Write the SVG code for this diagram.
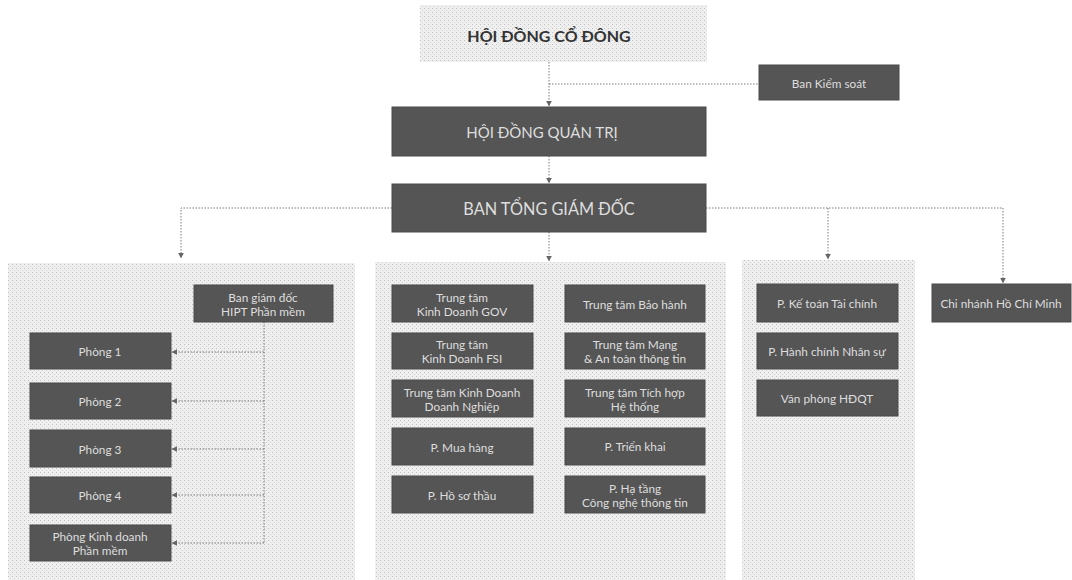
<svg xmlns="http://www.w3.org/2000/svg" width="1072" height="580" viewBox="0 0 1072 580">
<defs>
<pattern id="dots" width="4" height="4" patternUnits="userSpaceOnUse">
<rect width="4" height="4" fill="#efefef"/>
<rect x="0" y="0" width="1" height="1" fill="#c0c0c0"/>
<rect x="2" y="2" width="1" height="1" fill="#d4d4d4"/>
</pattern>
<marker id="arr" viewBox="0 0 10 10" refX="9" refY="5" markerWidth="6" markerHeight="6" orient="auto" markerUnits="userSpaceOnUse">
<path d="M0,0 L10,5 L0,10 Z" fill="#666"/>
</marker>
</defs>
<style>
.panel{fill:url(#dots);}
.box{fill:#555555;stroke:#4a4a4a;stroke-width:1;}
.t{font-family:Lato,"Open Sans","Noto Sans",sans-serif;fill:#dedede;font-size:11.8px;text-anchor:middle;dominant-baseline:central;}
.big{font-family:Lato,"Open Sans","Noto Sans",sans-serif;fill:#dedede;text-anchor:middle;dominant-baseline:central;}
.c{fill:none;stroke:#7a7a7a;stroke-width:1;stroke-dasharray:1.5,1.5;}
</style>
<rect width="1072" height="580" fill="#ffffff"/>

<g id="panels">
<rect class="panel" x="8" y="263" width="347" height="317"/>
<rect class="panel" x="375" y="262" width="351" height="318"/>
<rect class="panel" x="742" y="260" width="173" height="320"/>
</g>

<g id="connectors">
<path class="c" d="M549,62 V106" marker-end="url(#arr)"/>
<path class="c" d="M549,84 H759"/>
<path class="c" d="M549,156 V183" marker-end="url(#arr)"/>
<path class="c" d="M549,232 V261" marker-end="url(#arr)"/>
<path class="c" d="M392,208 H181 V258" marker-end="url(#arr)"/>
<path class="c" d="M706,208 H1003 V283" marker-end="url(#arr)"/>
<path class="c" d="M828,208 V259" marker-end="url(#arr)"/>
<path class="c" d="M264,322 V543"/>
<path class="c" d="M264,352 H172" marker-end="url(#arr)"/>
<path class="c" d="M264,401 H172" marker-end="url(#arr)"/>
<path class="c" d="M264,449 H172" marker-end="url(#arr)"/>
<path class="c" d="M264,495 H172" marker-end="url(#arr)"/>
<path class="c" d="M264,543 H172" marker-end="url(#arr)"/>
</g>

<g id="hdcd">
<rect x="420" y="5" width="287" height="57" class="panel"/>
<text x="549" y="35" style="font-family:Lato,'Open Sans','Noto Sans',sans-serif;font-weight:bold;font-size:16px;fill:#333;text-anchor:middle;dominant-baseline:central">HỘI ĐỒNG CỔ ĐÔNG</text>
</g>
<g id="bks"><rect class="box" x="759" y="65" width="140" height="35"/><text class="t" x="829" y="83">Ban Kiểm soát</text></g>
<g id="hdqt"><rect class="box" x="392" y="107" width="314" height="49"/><text class="big" x="542" y="132" style="font-size:15px">HỘI ĐỒNG QUẢN TRỊ</text></g>
<g id="btgd"><rect class="box" x="392" y="184" width="314" height="48"/><text class="big" x="549" y="208" style="font-size:16.3px">BAN TỔNG GIÁM ĐỐC</text></g>

<g id="bgd-hipt"><rect class="box" x="194" y="285" width="139" height="37"/><text class="t" x="263" y="297">Ban giám đốc</text><text class="t" x="263" y="311">HIPT Phần mềm</text></g>
<g id="phong1"><rect class="box" x="30" y="333" width="141" height="36"/><text class="t" x="100" y="351">Phòng 1</text></g>
<g id="phong2"><rect class="box" x="30" y="383" width="141" height="36"/><text class="t" x="100" y="401">Phòng 2</text></g>
<g id="phong3"><rect class="box" x="30" y="430" width="141" height="37"/><text class="t" x="100" y="449">Phòng 3</text></g>
<g id="phong4"><rect class="box" x="30" y="477" width="141" height="36"/><text class="t" x="100" y="495">Phòng 4</text></g>
<g id="phongkd"><rect class="box" x="30" y="525" width="141" height="36"/><text class="t" x="100" y="536">Phòng Kinh doanh</text><text class="t" x="100" y="550">Phần mềm</text></g>

<g id="tt-gov"><rect class="box" x="392" y="285" width="141" height="37"/><text class="t" x="462" y="297">Trung tâm</text><text class="t" x="462" y="311">Kinh Doanh GOV</text></g>
<g id="tt-fsi"><rect class="box" x="392" y="333" width="141" height="36"/><text class="t" x="462" y="344">Trung tâm</text><text class="t" x="462" y="358">Kinh Doanh FSI</text></g>
<g id="tt-dn"><rect class="box" x="392" y="380" width="141" height="37"/><text class="t" x="462" y="392">Trung tâm Kinh Doanh</text><text class="t" x="462" y="406">Doanh Nghiệp</text></g>
<g id="p-mua"><rect class="box" x="392" y="428" width="141" height="37"/><text class="t" x="462" y="447">P. Mua hàng</text></g>
<g id="p-hoso"><rect class="box" x="392" y="476" width="141" height="37"/><text class="t" x="462" y="495">P. Hồ sơ thầu</text></g>

<g id="tt-bh"><rect class="box" x="565" y="285" width="140" height="37"/><text class="t" x="635" y="304">Trung tâm Bảo hành</text></g>
<g id="tt-mang"><rect class="box" x="565" y="333" width="140" height="36"/><text class="t" x="635" y="344">Trung tâm Mạng</text><text class="t" x="635" y="358">&amp; An toàn thông tin</text></g>
<g id="tt-tichhop"><rect class="box" x="565" y="380" width="140" height="37"/><text class="t" x="635" y="392">Trung tâm Tích hợp</text><text class="t" x="635" y="406">Hệ thống</text></g>
<g id="p-trienkhai"><rect class="box" x="565" y="428" width="140" height="37"/><text class="t" x="635" y="446">P. Triển khai</text></g>
<g id="p-hatang"><rect class="box" x="565" y="476" width="140" height="37"/><text class="t" x="635" y="488">P. Hạ tầng</text><text class="t" x="635" y="502">Công nghệ thông tin</text></g>

<g id="p-ketoan"><rect class="box" x="757" y="284" width="141" height="38"/><text class="t" x="827" y="303">P. Kế toán Tài chính</text></g>
<g id="p-hcns"><rect class="box" x="757" y="333" width="141" height="36"/><text class="t" x="827" y="351">P. Hành chính Nhân sự</text></g>
<g id="vp-hdqt"><rect class="box" x="757" y="380" width="141" height="36"/><text class="t" x="827" y="398">Văn phòng HĐQT</text></g>

<g id="cn-hcm"><rect class="box" x="932" y="284" width="139" height="38"/><text class="t" x="1001" y="303">Chi nhánh Hồ Chí Minh</text></g>
</svg>
